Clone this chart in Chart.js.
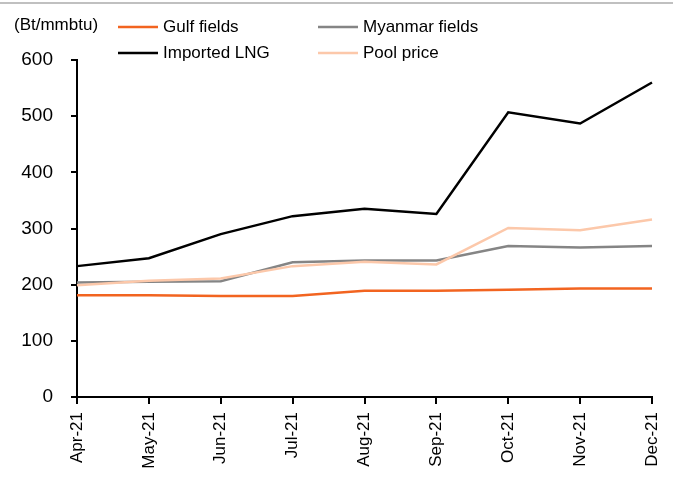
<!DOCTYPE html>
<html>
<head>
<meta charset="utf-8">
<script src="https://cdn.jsdelivr.net/npm/chart.js@4"></script>
<style>
  html, body { margin: 0; padding: 0; background: #fff; }
  #wrap { width: 673px; height: 481px; position: relative; }
</style>
</head>
<body>
<div id="wrap"><canvas id="chart" width="673" height="481"></canvas></div>
<script>
const months = ['Apr-21', 'May-21', 'Jun-21', 'Jul-21', 'Aug-21', 'Sep-21', 'Oct-21', 'Nov-21', 'Dec-21'];
const gulfFields = [181, 181, 180, 180, 189, 189, 191, 193, 193];
const myanmarFields = [204, 205, 206, 240, 243, 243, 269, 266, 269];
const importedLng = [233, 247, 290, 322, 335, 326, 507, 487, 560];
const poolPrice = [199, 207, 211, 233, 241, 236, 301, 297, 316];
const yTicks = [0, 100, 200, 300, 400, 500, 600];
const unitLabel = '(Bt/mmbtu)';

const FONT = '"Liberation Sans", Arial, sans-serif';

// legend drawn as two columns, like the original
const legendPlugin = {
    id: 'twoColLegend',
    afterDraw(chart) {
        const ctx = chart.ctx;
        ctx.save();
        ctx.fillStyle = '#c0c0c0';
        ctx.fillRect(0, 2, 673, 2);

        ctx.font = '17px ' + FONT;
        ctx.fillStyle = '#000';
        ctx.textBaseline = 'middle';
        ctx.textAlign = 'left';
        ctx.fillText(unitLabel, 14, 25);

        const slots = [[118, 27], [318, 27], [118, 53], [318, 53]];
        chart.data.datasets.forEach((ds, i) => {
            const [x, y] = slots[i];
            ctx.strokeStyle = ds.borderColor;
            ctx.lineWidth = 2.5;
            ctx.beginPath();
            ctx.moveTo(x, y);
            ctx.lineTo(x + 40, y);
            ctx.stroke();
            ctx.fillStyle = '#000';
            ctx.fillText(ds.label, x + 45, y);
        });
        ctx.restore();
    }
};

new Chart(document.getElementById('chart'), {
    type: 'line',
    data: {
        labels: months,
        datasets: [
            { label: 'Gulf fields', data: gulfFields, borderColor: '#F26420', order: 4 },
            { label: 'Myanmar fields', data: myanmarFields, borderColor: '#858585', order: 3 },
            { label: 'Imported LNG', data: importedLng, borderColor: '#000000', order: 1 },
            { label: 'Pool price', data: poolPrice, borderColor: '#FCC8AA', order: 2 }
        ].map(d => Object.assign(d, { borderWidth: 2.5, pointRadius: 0, tension: 0, fill: false }))
    },
    options: {
        responsive: false,
        animation: false,
        events: [],
        layout: { padding: { top: 60, right: 21, left: 0, bottom: 0 } },
        plugins: { legend: { display: false }, tooltip: { enabled: false } },
        scales: {
            x: {
                offset: false,
                grid: { drawOnChartArea: false, color: '#000', lineWidth: 2, tickLength: 7 },
                border: { color: '#000', width: 2 },
                ticks: {
                    color: '#000',
                    font: { family: FONT, size: 17 },
                    maxRotation: 90, minRotation: 90,
                    padding: 8,
                    autoSkip: false
                },
                afterFit(scale) {
                    scale.height = 84;
                    scale.paddingLeft = 0;
                    scale.paddingRight = 0;
                }
            },
            y: {
                min: 0, max: 600,
                afterBuildTicks(scale) { scale.ticks = yTicks.map(v => ({ value: v })); },
                grid: { drawOnChartArea: false, color: '#000', lineWidth: 2, tickLength: 6 },
                border: { color: '#000', width: 2 },
                ticks: {
                    color: '#000',
                    font: { family: FONT, size: 19 },
                    padding: 18
                },
                afterFit(scale) { scale.width = 77; }
            }
        }
    },
    plugins: [legendPlugin]
});
</script>
</body>
</html>
